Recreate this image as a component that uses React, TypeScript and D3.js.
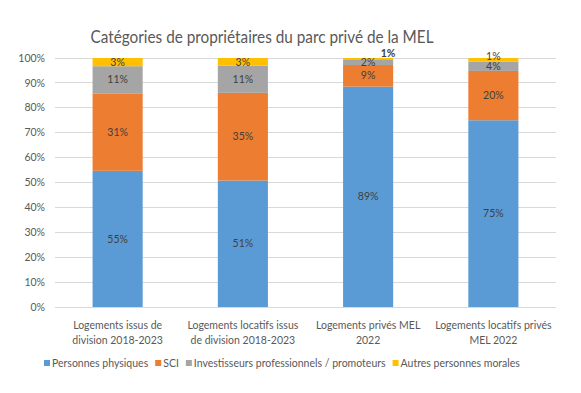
import React, { useEffect, useRef } from 'react'
import * as d3 from 'd3'

const categories = [
  ['Logements issus de', 'division 2018-2023'],
  ['Logements locatifs issus', 'de division 2018-2023'],
  ['Logements privés MEL', '2022'],
  ['Logements locatifs privés', 'MEL 2022'],
]
const seriesNames = ['Personnes physiques', 'SCI', 'Investisseurs professionnels / promoteurs', 'Autres personnes morales']
const personnesPhysiques = [54.7, 50.8, 88.5, 75.0]
const sci = [31.1, 35.2, 8.7, 19.8]
const investisseurs = [10.9, 10.9, 2.3, 3.8]
const autres = [3.3, 3.1, 0.5, 1.4]
const yTicks = [0, 10, 20, 30, 40, 50, 60, 70, 80, 90, 100]
const colors = ['#5B9BD5', '#ED7D31', '#A5A5A5', '#FFC000']

const FONT = 'Lato, "Open Sans", sans-serif'

export default function App() {
  const ref = useRef<SVGSVGElement | null>(null)
  useEffect(() => {
    if (!ref.current) return
    document.body.style.margin = '0'
    const svg = d3.select(ref.current)
    svg.selectAll('*').remove()
    const W = 581, H = 393
    const m = { top: 58, right: 25, bottom: 86, left: 55 }
    const w = W - m.left - m.right
    const h = H - m.top - m.bottom
    svg.append('rect').attr('width', W).attr('height', H).attr('fill', '#fff')

    svg.append('text').text('Catégories de propriétaires du parc privé de la MEL')
      .attr('x', 262).attr('y', 43).attr('text-anchor', 'middle')
      .attr('textLength', 343).attr('lengthAdjust', 'spacingAndGlyphs')
      .attr('font-family', FONT).attr('font-size', 18).attr('fill', '#595959')

    const g = svg.append('g').attr('transform', `translate(${m.left},${m.top})`)
    const x = d3.scaleBand<number>().domain(d3.range(categories.length)).range([0, w]).paddingInner(0.6).paddingOuter(0.3)
    const y = d3.scaleLinear().domain([0, 100]).range([h, 0])

    g.selectAll('line.grid').data(yTicks).enter().append('line')
      .attr('x1', 0).attr('x2', w).attr('y1', d => y(d)).attr('y2', d => y(d))
      .attr('stroke', '#d9d9d9').attr('stroke-width', 1).attr('shape-rendering', 'crispEdges')
    g.selectAll('text.ytick').data(yTicks).enter().append('text')
      .text(d => d + '%').attr('x', -10).attr('y', d => y(d)).attr('dy', '0.35em')
      .attr('text-anchor', 'end').attr('font-family', FONT).attr('font-size', 10.5).attr('fill', '#595959')

    const series = [personnesPhysiques, sci, investisseurs, autres]
    const rows = categories.map((_, i) => {
      const r: any = { i }
      series.forEach((s, k) => { r[k] = s[i] })
      return r
    })
    const stack = d3.stack<any>().keys(['0', '1', '2', '3'])(rows)
    stack.forEach((layer, k) => {
      g.selectAll(null).data(layer).enter().append('rect')
        .attr('x', (d: any) => x(d.data.i)!).attr('width', x.bandwidth())
        .attr('y', (d: any) => y(d[1])).attr('height', (d: any) => y(d[0]) - y(d[1]))
        .attr('fill', colors[k])
    })
    stack.forEach((layer, k) => {
      layer.forEach((d: any) => {
        const v = d[1] - d[0]
        let cy = y((d[0] + d[1]) / 2)
        let cx = x(d.data.i)! + x.bandwidth() / 2
        let weight = 'normal'
        if (v < 1) { cy = y(d[1]) - 5; cx += 20; weight = 'bold' }
        else if (v < 2) { cy -= 3 }
        g.append('text').text(Math.round(v) + '%')
          .attr('x', cx).attr('y', cy).attr('dy', '0.35em').attr('text-anchor', 'middle')
          .attr('font-family', FONT).attr('font-size', 10.5).attr('font-weight', weight).attr('fill', '#404040')
      })
    })

    categories.forEach((lines, i) => {
      const t = g.append('text').attr('text-anchor', 'middle')
        .attr('font-family', FONT).attr('font-size', 10.5).attr('fill', '#595959')
      lines.forEach((ln, j) => {
        t.append('tspan').text(ln).attr('x', x(i)! + x.bandwidth() / 2).attr('y', h + 22 + j * 15)
      })
    })

    const legend = svg.append('g').attr('transform', `translate(44,${H - 30})`)
    let lx = 0
    seriesNames.forEach((name, k) => {
      const it = legend.append('g').attr('transform', `translate(${lx},0)`)
      it.append('rect').attr('width', 6).attr('height', 6).attr('y', -3).attr('fill', colors[k])
      const tx = it.append('text').text(name).attr('x', 8).attr('dy', '0.35em')
        .attr('font-family', FONT).attr('font-size', 10.5).attr('fill', '#595959')
      lx += 8 + (tx.node() as SVGTextElement).getComputedTextLength() + 7
    })
  }, [])
  return <svg ref={ref} width={581} height={393} style={{ display: 'block' }} />
}
